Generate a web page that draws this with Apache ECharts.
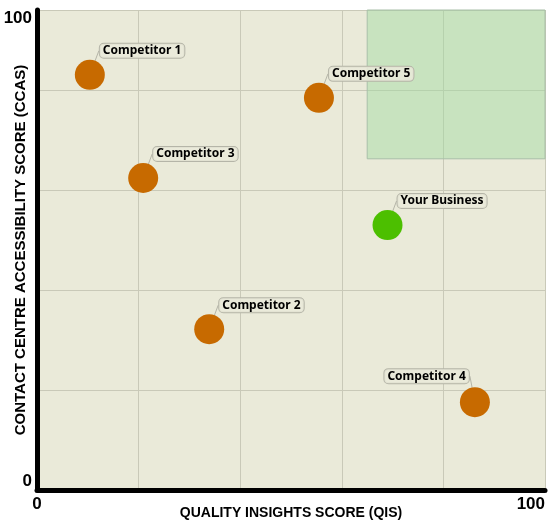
<!DOCTYPE html>
<html><head><meta charset="utf-8">
<script src="https://cdn.jsdelivr.net/npm/echarts@6/dist/echarts.min.js"></script>
<style>html,body{margin:0;padding:0;background:#fff}#c{width:550px;height:525px}</style>
</head><body><div id="c"></div>
<script>
const names = ['Competitor 1','Competitor 5','Competitor 3','Your Business','Competitor 2','Competitor 4'];
const qis = [10.4, 55.5, 20.9, 69.0, 33.9, 86.2];
const ccas = [86.5, 81.7, 65.0, 55.2, 33.5, 18.3];
const isYou = [false, false, false, true, false, false];
const labelLeft = [false, false, false, false, false, true];
const targetZoneX = [65, 100];
const targetZoneY = [69, 100];
const xTicks = [0, 100];
const yTicks = [0, 100];

const chart = echarts.init(document.getElementById('c'));
const data = names.map((n, i) => ({
  name: n,
  value: [qis[i], ccas[i]],
  itemStyle: { color: isYou[i] ? '#4CBF00' : '#C76A00', opacity: 1 },
  label: labelLeft[i]
    ? { position: [9, -4], align: 'right', verticalAlign: 'bottom' }
    : { position: [25, -2], align: 'left', verticalAlign: 'bottom' }
}));

chart.setOption({
  animation: false,
  grid: { left: 37, right: 5, top: 10, bottom: 35, containLabel: false, outerBoundsMode: 'none',
          show: true, backgroundColor: '#EAEAD9', borderWidth: 0 },
  xAxis: {
    type: 'value', min: xTicks[0], max: xTicks[1], interval: 20,
    name: 'QUALITY INSIGHTS SCORE (QIS)', nameLocation: 'middle', nameGap: 16, nameMoveOverlap: false,
    nameTextStyle: { fontFamily: 'Liberation Sans, Arial', fontWeight: 'bold', fontSize: 14, color: '#000',
                     verticalAlign: 'top' },
    axisLine: { show: true, onZero: false, lineStyle: { color: '#000', width: 5 } },
    axisTick: { show: false },
    splitLine: { show: true, lineStyle: { color: '#C9C9B8', width: 1 } },
    axisLabel: {
      margin: 6, fontFamily: 'Liberation Sans, Arial', fontWeight: 'bold', fontSize: 17, color: '#000',
      alignMaxLabel: 'right',
      formatter: v => (xTicks.indexOf(v) >= 0 ? String(v) : '')
    }
  },
  yAxis: {
    type: 'value', min: yTicks[0], max: yTicks[1], interval: 100 / 4.8,
    name: 'CONTACT CENTRE ACCESSIBILITY SCORE (CCAS)', nameLocation: 'middle', nameGap: 9, nameRotate: 90,
    nameMoveOverlap: false,
    nameTextStyle: { fontFamily: 'Liberation Sans, Arial', fontWeight: 'bold', fontSize: 15, color: '#000',
                     verticalAlign: 'bottom' },
    axisLine: { show: true, onZero: false, lineStyle: { color: '#000', width: 5 } },
    axisTick: { show: false },
    splitLine: { show: true, lineStyle: { color: '#C9C9B8', width: 1 } },
    axisLabel: {
      margin: 5, fontFamily: 'Liberation Sans, Arial', fontWeight: 'bold', fontSize: 17, color: '#000',
      verticalAlignMaxLabel: 'top', verticalAlignMinLabel: 'bottom',
      formatter: v => (yTicks.indexOf(v) >= 0 ? String(v) : '')
    }
  },
  series: [{
    type: 'scatter',
    symbolSize: 30,
    data: data,
    itemStyle: { opacity: 1 },
    label: {
      show: true, formatter: '{b}',
      fontFamily: 'Noto Sans', fontWeight: 'bold', fontSize: 12, color: '#000',
      backgroundColor: 'rgba(234,234,217,0.85)', borderColor: '#B5B5A8', borderWidth: 1, borderRadius: 4,
      padding: [1, 3, 1, 3]
    },
    labelLine: { show: true, lineStyle: { color: '#B5B5A8', width: 1 } },
    markArea: {
      silent: true,
      itemStyle: { color: 'rgba(160,220,160,0.45)', borderColor: '#A8BFA8', borderWidth: 1 },
      data: [[{ coord: [targetZoneX[0], targetZoneY[0]] }, { coord: [targetZoneX[1], targetZoneY[1]] }]]
    },
    z: 3
  }]
});
</script></body></html>
